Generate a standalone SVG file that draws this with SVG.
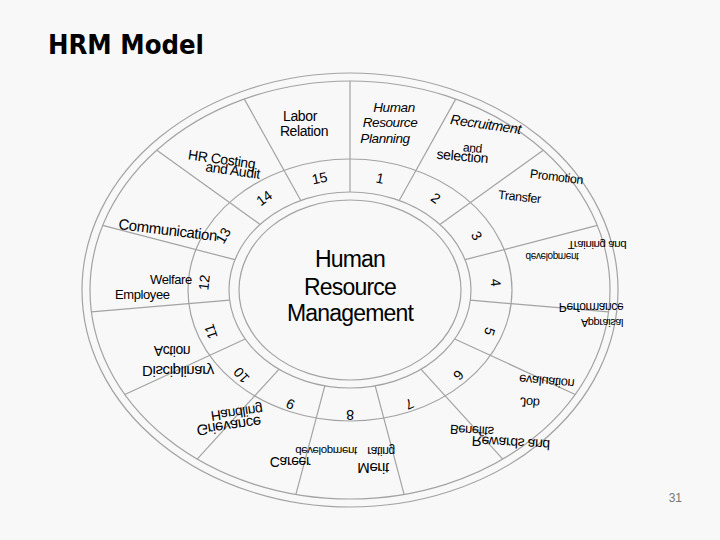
<svg xmlns="http://www.w3.org/2000/svg" width="720" height="540" viewBox="0 0 720 540">
<style>
.ring{fill:none;stroke:#a3a3a3;stroke-width:1.2}
.spoke{stroke:#a3a3a3;stroke-width:1.2}
.lbl{font-family:"Liberation Sans",Arial,sans-serif;font-size:14px;fill:#000;text-anchor:middle;letter-spacing:-0.4px}
.num{font-family:"Liberation Sans",Arial,sans-serif;font-size:14px;fill:#000;text-anchor:middle}
.ctr{font-family:"Liberation Sans",Arial,sans-serif;font-size:23px;fill:#000;text-anchor:middle;letter-spacing:-0.8px}
.it{font-style:italic}
</style>
<rect width="720" height="540" fill="#f8f8f8"/>
<text x="48" y="54" font-family="'Comic Sans MS','DejaVu Sans',sans-serif" font-size="26" font-weight="bold" textLength="156" lengthAdjust="spacingAndGlyphs" fill="#000">HRM Model</text>
<text x="682" y="502" font-family="'Liberation Sans',Arial,sans-serif" font-size="12" fill="#777" text-anchor="end">31</text>

<g id="rings">
<ellipse class="ring" cx="350" cy="290" rx="268" ry="217"/>
<ellipse class="ring" cx="350" cy="290" rx="260" ry="209"/>
<ellipse class="ring" cx="350" cy="290" rx="162" ry="131"/>
<ellipse class="ring" cx="350" cy="290" rx="121" ry="98"/>
</g>

<g id="connectors">
<line class="spoke" x1="350" y1="192" x2="350" y2="81"/>
<line class="spoke" x1="399.2" y1="200.5" x2="455.7" y2="99.1"/>
<line class="spoke" x1="439.9" y1="224.4" x2="543.2" y2="150.2"/>
<line class="spoke" x1="465.1" y1="259.7" x2="597.3" y2="225.4"/>
<line class="spoke" x1="470.3" y1="300.2" x2="608.6" y2="311.8"/>
<line class="spoke" x1="454.8" y1="339" x2="575.2" y2="394.5"/>
<line class="spoke" x1="421.1" y1="369.3" x2="502.8" y2="459.1"/>
<line class="spoke" x1="375.2" y1="385.9" x2="404.1" y2="494.4"/>
<line class="spoke" x1="324.8" y1="385.9" x2="295.9" y2="494.4"/>
<line class="spoke" x1="278.9" y1="369.3" x2="197.2" y2="459.1"/>
<line class="spoke" x1="245.2" y1="339" x2="124.8" y2="394.5"/>
<line class="spoke" x1="229.7" y1="300.2" x2="91.4" y2="311.8"/>
<line class="spoke" x1="234.9" y1="259.7" x2="102.7" y2="225.4"/>
<line class="spoke" x1="260.1" y1="224.4" x2="156.8" y2="150.2"/>
<line class="spoke" x1="300.8" y1="200.5" x2="244.3" y2="99.1"/>
</g>

<g id="center">
<ellipse class="ring" cx="350" cy="290" rx="111" ry="90"/>
<text class="ctr" x="350" y="267">Human</text>
<text class="ctr" x="350" y="295">Resource</text>
<text class="ctr" x="350" y="321">Management</text>
</g>

<g id="seg1">
<text class="lbl it" style="font-size:13.5px" x="394" y="112">Human</text>
<text class="lbl it" style="font-size:13.5px" x="390" y="127">Resource</text>
<text class="lbl it" style="font-size:13.5px" x="385" y="143">Planning</text>
<text class="num" transform="translate(379,183) rotate(12)">1</text>
</g>
<g id="seg2">
<text class="lbl it" transform="translate(485,129) rotate(8)">Recruitment</text>
<text class="lbl" style="font-size:12px" transform="translate(472,152) rotate(5)">and</text>
<text class="lbl" transform="translate(462,161) rotate(5)">selection</text>
<text class="num" transform="translate(433,202) rotate(36)">2</text>
</g>
<g id="seg3">
<text class="lbl" style="font-size:12.5px" transform="translate(556,181) rotate(7)">Promotion</text>
<text class="lbl" style="font-size:12.5px" transform="translate(519,201) rotate(6)">Transfer</text>
<text class="num" transform="translate(472.5,238) rotate(60)">3</text>
</g>
<g id="seg4">
<text class="lbl" style="font-size:11.5px" transform="translate(597,241) scale(1,-1)">Training and</text>
<text class="lbl" style="font-size:10px" transform="translate(552,253) scale(1,-1)">development</text>
<text class="num" transform="translate(491,283) rotate(84)">4</text>
</g>
<g id="seg5">
<text class="lbl" style="font-size:12px" transform="translate(591,303) scale(1,-1)">Performance</text>
<text class="lbl" style="font-size:11px" transform="translate(602,319) scale(1,-1)">Appraisal</text>
<text class="num" transform="translate(485,330) rotate(108)">5</text>
</g>
<g id="seg6">
<text class="lbl" style="font-size:13px" transform="translate(547,377) rotate(5) scale(1,-1)">evaluation</text>
<text class="lbl" style="font-size:13px" transform="translate(530,398) rotate(5) scale(1,-1)">Job</text>
<text class="num" transform="translate(455,372) rotate(132)">6</text>
</g>
<g id="seg7">
<text class="lbl" style="font-size:13px" transform="translate(472,426) rotate(3) scale(1,-1)">Benefits</text>
<text class="lbl" style="font-size:14px" transform="translate(511,438) rotate(3) scale(1,-1)">Rewards and</text>
<text class="num" transform="translate(407.5,399.6) rotate(156)">7</text>
</g>
<g id="seg8">
<text class="lbl" style="font-size:12px" transform="translate(381,447) scale(1,-1)">rating</text>
<text class="lbl" style="font-size:15px" transform="translate(373,463) scale(1,-1)">Merit</text>
<text class="num" transform="translate(350,409.5) rotate(180)">8</text>
</g>
<g id="seg9">
<text class="lbl" style="font-size:11.5px" transform="translate(326,447) scale(1,-1)">development</text>
<text class="lbl" style="font-size:14px" transform="translate(290,457) scale(1,-1)">Career</text>
<text class="num" transform="translate(292.5,399.6) rotate(204)">9</text>
</g>
<g id="seg10">
<text class="lbl" style="font-size:14px" transform="translate(236,408) rotate(-8) scale(1,-1)">Handling</text>
<text class="lbl" style="font-size:15px" transform="translate(228,421) rotate(-8) scale(1,-1)">Grievance</text>
<text class="num" transform="translate(245,372) rotate(228)">10</text>
</g>
<g id="seg11">
<text class="lbl" style="font-size:14px" transform="translate(172,346) scale(1,-1)">Action</text>
<text class="lbl" style="font-size:15px" transform="translate(178,366) scale(1,-1)">Disciplinary</text>
<text class="num" transform="translate(215.4,330) rotate(252)">11</text>
</g>
<g id="seg12">
<text class="lbl" style="font-size:13px;text-anchor:start" x="115" y="299">Employee</text>
<text class="lbl" style="font-size:13px;text-anchor:start" x="150" y="284">Welfare</text>
<text class="num" transform="translate(209,283) rotate(276)">12</text>
</g>
<g id="seg13">
<text class="lbl" style="font-size:15px;text-anchor:start" transform="translate(118,229) rotate(7)">Communication</text>
<text class="num" transform="translate(227.5,238) rotate(300)">13</text>
</g>
<g id="seg14">
<text class="lbl" transform="translate(221,164) rotate(8)">HR Costing</text>
<text class="lbl" transform="translate(232,175) rotate(8)">and Audit</text>
<text class="num" transform="translate(267,202) rotate(324)">14</text>
</g>
<g id="seg15">
<text class="lbl" x="300" y="121">Labor</text>
<text class="lbl" x="304" y="136">Relation</text>
<text class="num" transform="translate(320.6,183) rotate(348)">15</text>
</g>
</svg>
